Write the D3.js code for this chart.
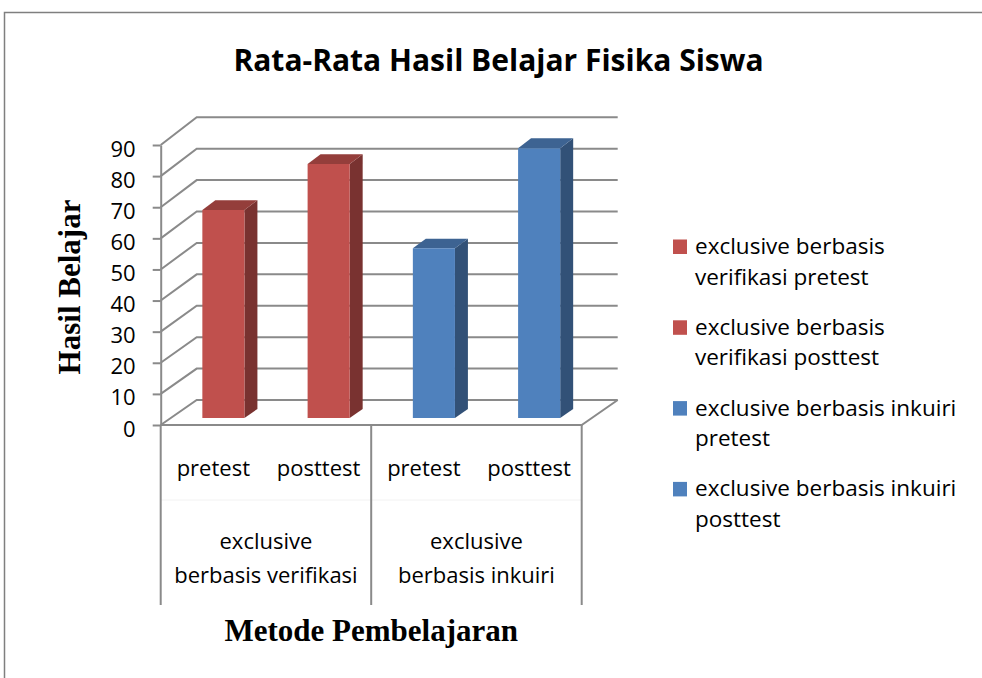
<!DOCTYPE html>
<html>
<head>
<meta charset="utf-8">
<script src="https://cdn.jsdelivr.net/npm/d3@7"></script>
<style>
  body { margin: 0; background: #fff; }
  svg { display: block; }
  .sans { font-family: "Open Sans", sans-serif; fill: #000; }
  .serif { font-family: "Liberation Serif", "Times New Roman", serif; font-weight: bold; fill: #000; }
</style>
</head>
<body>
<figure id="chart" style="margin:0"></figure>
<script>
// ---------------- data ----------------
const title = "Rata-Rata Hasil Belajar Fisika Siswa";
const yTitle = "Hasil Belajar";
const xTitle = "Metode Pembelajaran";
const categories = ["pretest", "posttest", "pretest", "posttest"];
const groupLabels = [["exclusive", "berbasis verifikasi"], ["exclusive", "berbasis inkuiri"]];
const values = [66.7, 81.4, 54.4, 86.5];
const seriesLegend = [
  ["exclusive berbasis", "verifikasi pretest"],
  ["exclusive berbasis", "verifikasi posttest"],
  ["exclusive berbasis inkuiri", "pretest"],
  ["exclusive berbasis inkuiri", "posttest"]
];
const seriesColors = ["#C0504D", "#C0504D", "#4F81BD", "#4F81BD"];
const yTicks = [0, 10, 20, 30, 40, 50, 60, 70, 80, 90];

// ---------------- layout ----------------
const width = 982, height = 678;
const gridColor = "#8a8a8a";
const DX = 36;                 // depth offset of back wall
const barDepth = [0.28, 0.64]; // bar front / back as fraction of depth

const x = d3.scaleBand().domain(d3.range(categories.length)).range([160.7, 581.7]);
const yFront = d3.scaleLinear().domain([0, 90]).range([425, 145]);
const yBack = d3.scaleLinear().domain([0, 90]).range([400, 117.3]);

// oblique projection: front x / value / depth fraction -> screen
const proj = (px, v, t) => [px + t * DX, yFront(v) + t * (yBack(v) - yFront(v))];

let svg;

function createSvg() {
  svg = d3.select("figure#chart").append("svg")
    .attr("width", width)
    .attr("height", height);

  // chart border (only left / top in view)
  svg.append("rect")
    .attr("x", 4.5).attr("y", 12.5)
    .attr("width", 1000).attr("height", 700)
    .attr("fill", "none")
    .attr("stroke", "#7f7f7f")
    .attr("stroke-width", 1.5);

  svg.append("text")
    .attr("class", "sans")
    .attr("x", 498.5).attr("y", 71)
    .attr("text-anchor", "middle")
    .style("font-size", "30px")
    .style("font-weight", "bold")
    .text(title);
}

function createGrid() {
  const x0 = x.range()[0], x1 = x.range()[1];
  const g = svg.append("g").attr("class", "grid");

  // side wall + back wall lines
  g.selectAll("path.grid-line")
    .data(yTicks)
    .enter().append("path")
    .attr("class", "grid-line")
    .attr("d", d => d3.line()([proj(x0, d, 0), proj(x0, d, 1), proj(x1, d, 1)]))
    .attr("fill", "none")
    .attr("stroke", gridColor)
    .attr("stroke-width", 2);

  // floor front + right edge
  g.append("path")
    .attr("d", d3.line()([proj(x0, 0, 0), proj(x1, 0, 0), proj(x1, 0, 1)]))
    .attr("fill", "none")
    .attr("stroke", gridColor)
    .attr("stroke-width", 2);

  // y axis
  const yAxis = d3.axisLeft(yFront)
    .tickValues(yTicks)
    .tickSize(8)
    .tickSizeOuter(0)
    .tickPadding(17);
  const ya = svg.append("g")
    .attr("class", "y-axis")
    .attr("transform", "translate(" + x0 + ",0)")
    .call(yAxis);
  ya.select(".domain").attr("stroke", gridColor).attr("stroke-width", 2);
  ya.selectAll(".tick line").attr("stroke", gridColor).attr("stroke-width", 2);
  ya.selectAll(".tick text")
    .attr("class", "sans")
    .attr("dy", "0.5em")
    .style("font-size", "22px")
    .style("font-family", "'Open Sans', sans-serif");

  // category table below the floor
  const groupEdges = [x0, x(2), x1];
  const tbl = svg.append("g").attr("class", "x-table");
  tbl.append("line")
    .attr("x1", x0).attr("x2", x1)
    .attr("y1", 500).attr("y2", 500)
    .attr("stroke", "#f2f2f2")
    .attr("stroke-width", 1);
  tbl.selectAll("line.sep")
    .data(groupEdges)
    .enter().append("line")
    .attr("class", "sep")
    .attr("x1", d => d).attr("x2", d => d)
    .attr("y1", yFront(0)).attr("y2", 605)
    .attr("stroke", gridColor)
    .attr("stroke-width", 2);

  tbl.selectAll("text.cat")
    .data(categories)
    .enter().append("text")
    .attr("class", "cat sans")
    .attr("x", (d, i) => x(i) + x.bandwidth() / 2)
    .attr("y", 476)
    .attr("text-anchor", "middle")
    .style("font-size", "22px")
    .text(d => d);

  const grp = tbl.selectAll("text.grp")
    .data(groupLabels)
    .enter().append("text")
    .attr("class", "grp sans")
    .attr("x", (d, i) => (groupEdges[i] + groupEdges[i + 1]) / 2)
    .attr("y", 549)
    .attr("text-anchor", "middle")
    .style("font-size", "22px");
  grp.selectAll("tspan")
    .data(d => d)
    .enter().append("tspan")
    .attr("x", function() { return d3.select(this.parentNode).attr("x"); })
    .attr("dy", (d, i) => i === 0 ? 0 : 33.5)
    .text(d => d);

  // axis titles
  svg.append("text")
    .attr("class", "serif")
    .attr("transform", "translate(80,287) rotate(-90)")
    .attr("text-anchor", "middle")
    .style("font-size", "31px")
    .text(yTitle);

  svg.append("text")
    .attr("class", "serif")
    .attr("x", (x0 + x1) / 2)
    .attr("y", 641)
    .attr("text-anchor", "middle")
    .style("font-size", "31px")
    .text(xTitle);
}

function makeBars() {
  const bw = x.bandwidth() * 0.4;
  const [t0, t1] = barDepth;
  const bars = svg.append("g").attr("class", "bars")
    .selectAll("g")
    .data(values)
    .enter().append("g")
    .attr("class", "bar");

  const L = (d, i) => x(i) + x.bandwidth() / 2 - bw / 2;
  const R = (d, i) => x(i) + x.bandwidth() / 2 + bw / 2;

  // side face
  bars.append("path")
    .attr("d", (d, i) => d3.line()([
      proj(R(d, i), 0, t0), proj(R(d, i), 0, t1), proj(R(d, i), d, t1), proj(R(d, i), d, t0)
    ]) + "Z")
    .attr("fill", (d, i) => d3.color(seriesColors[i]).darker(1.3));

  // top face
  bars.append("path")
    .attr("d", (d, i) => d3.line()([
      proj(L(d, i), d, t0), proj(R(d, i), d, t0), proj(R(d, i), d, t1), proj(L(d, i), d, t1)
    ]) + "Z")
    .attr("fill", (d, i) => d3.color(seriesColors[i]).darker(0.73));

  // front face
  bars.append("path")
    .attr("d", (d, i) => d3.line()([
      proj(L(d, i), 0, t0), proj(R(d, i), 0, t0), proj(R(d, i), d, t0), proj(L(d, i), d, t0)
    ]) + "Z")
    .attr("fill", (d, i) => seriesColors[i]);
}

function makeLegend() {
  const items = svg.append("g").attr("class", "legend")
    .selectAll("g")
    .data(seriesLegend)
    .enter().append("g")
    .attr("transform", (d, i) => "translate(673," + (239.5 + i * 80.8) + ")");

  items.append("rect")
    .attr("width", 14).attr("height", 14.5)
    .attr("fill", (d, i) => seriesColors[i]);

  const txt = items.append("text")
    .attr("class", "sans")
    .attr("x", 22)
    .attr("y", 14.5)
    .style("font-size", "22.5px");
  txt.selectAll("tspan")
    .data(d => d)
    .enter().append("tspan")
    .attr("x", 22)
    .attr("dy", (d, i) => i === 0 ? 0 : 30.5)
    .text(d => d);
}

createSvg();
createGrid();
makeBars();
makeLegend();
</script>
</body>
</html>
